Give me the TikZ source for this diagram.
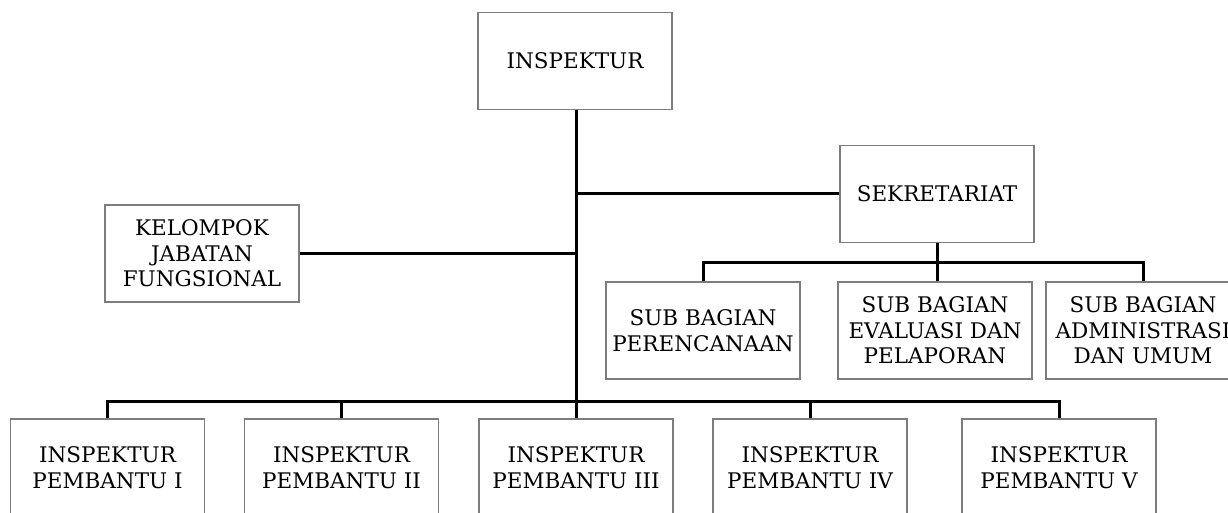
\documentclass[tikz,border=0pt]{standalone}
\usepackage{fontspec}
\setmainfont{DejaVu Serif}
\begin{document}
\begin{tikzpicture}[x=1pt,y=-1pt,
  box/.style={draw={rgb,255:red,125;green,125;blue,125},line width=1.3pt,fill=white,
    minimum width=194pt,minimum height=97pt,inner sep=0pt,align=center,
    font=\fontsize{21.5}{25.5}\selectfont},
  conn/.style={line width=3pt,black}]
\useasboundingbox (0,0) rectangle (1228,513);
\clip (0,0) rectangle (1228,513);
% nodes
\node[box] (insp) at (575,61) {INSPEKTUR};
\node[box] (sek) at (937,194) {SEKRETARIAT};
\node[box] (kel) at (202,253.5) {KELOMPOK\\JABATAN\\FUNGSIONAL};
\node[box] (sb1) at (703,330.5) {SUB BAGIAN\\PERENCANAAN};
\node[box] (sb2) at (935,330.5) {SUB BAGIAN\\EVALUASI DAN\\PELAPORAN};
\node[box] (sb3) at (1143,330.5) {SUB BAGIAN\\ADMINISTRASI\\DAN UMUM};
\node[box] (ip1) at (107.5,467.5) {INSPEKTUR\\PEMBANTU I};
\node[box] (ip2) at (341.5,467.5) {INSPEKTUR\\PEMBANTU II};
\node[box] (ip3) at (576,467.5) {INSPEKTUR\\PEMBANTU III};
\node[box] (ip4) at (810,467.5) {INSPEKTUR\\PEMBANTU IV};
\node[box] (ip5) at (1059,467.5) {INSPEKTUR\\PEMBANTU V};
% junctions
\coordinate (j) at (576,401);
\coordinate (sj) at (937,262);
% connectors
\draw[conn] (insp.south -| j) -- (j);
\draw[conn] (sek.west) -- (sek.west -| j);
\draw[conn] (kel.east) -- (kel.east -| j);
\draw[conn] (sek.south) -- (sj);
\draw[conn] (sb1.north) |- (sj) -| (sb3.north);
\draw[conn] (sb2.north -| sj) -- (sj);
\draw[conn] (ip1.north) |- (j) -| (ip5.north);
\draw[conn] (ip2.north) -- (ip2.north |- j);
\draw[conn] (ip3.north -| j) -- (j);
\draw[conn] (ip4.north) -- (ip4.north |- j);
\end{tikzpicture}
\end{document}
